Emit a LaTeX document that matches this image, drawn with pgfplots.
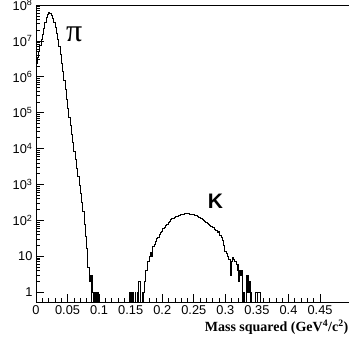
\documentclass[border=0pt]{standalone}
\usepackage{pgfplots}
\pgfplotsset{compat=1.18}
\usepackage{fontspec}
\setmainfont{Liberation Sans}
\newfontfamily\timesfont{Liberation Serif}
\begin{document}
\begin{tikzpicture}
\begin{axis}[
  name=ax,
  scale only axis,
  width=315.6pt, height=297pt,
  xmin=0, xmax=0.5,
  ymode=log, ymin=0.53, ymax=1e8,
  axis line style={line width=0.7pt},
  tick align=inside,
  xtick pos=left, ytick pos=left,
  xtick={0,0.05,0.1,0.15,0.2,0.25,0.3,0.35,0.4,0.45},
  xticklabels={0,0.05,0.1,0.15,0.2,0.25,0.3,0.35,0.4,0.45},
  minor x tick num=4,
  ytick={1,10,100,1000,10000,100000,1000000,10000000,100000000},
  yticklabels={1,10,10\textsuperscript{2},10\textsuperscript{3},10\textsuperscript{4},10\textsuperscript{5},10\textsuperscript{6},10\textsuperscript{7},10\textsuperscript{8}},
  minor ytick={2,3,4,5,6,7,8,9,20,30,40,50,60,70,80,90,200,300,400,500,600,700,800,900,2000,3000,4000,5000,6000,7000,8000,9000,20000,30000,40000,50000,60000,70000,80000,90000,2e5,3e5,4e5,5e5,6e5,7e5,8e5,9e5,2e6,3e6,4e6,5e6,6e6,7e6,8e6,9e6,2e7,3e7,4e7,5e7,6e7,7e7,8e7,9e7},
  major tick length=8pt, minor tick length=4pt,
  tick style={line width=0.6pt, black},
  ticklabel style={font=\fontsize{12.8}{14}\selectfont},
  xlabel={\timesfont\bfseries\fontsize{14}{16}\selectfont Mass squared (GeV\textsuperscript{4}/c\textsuperscript{2})},
  xlabel style={at={(rel axis cs:1,0)}, anchor=north east, yshift=-18pt, inner sep=0pt, xshift=-3pt},
]
\addplot[const plot mark left, line width=0.8pt, black, mark=none] coordinates {
(0.000,2.40e6) (0.002,3.55e6) (0.004,5.25e6) (0.006,7.59e6) (0.008,1.07e7)
(0.010,1.51e7) (0.012,2.24e7) (0.014,3.31e7) (0.016,4.47e7) (0.018,5.50e7)
(0.020,6.03e7) (0.022,5.75e7) (0.024,5.01e7) (0.026,4.17e7) (0.028,3.31e7)
(0.030,2.40e7) (0.032,1.66e7) (0.034,1.10e7) (0.036,6.92e6) (0.038,4.17e6)
(0.040,2.40e6) (0.042,1.38e6) (0.044,7.94e5) (0.046,4.37e5) (0.048,2.40e5)
(0.050,1.32e5) (0.052,7.59e4) (0.054,4.37e4) (0.056,2.51e4) (0.058,1.45e4)
(0.060,8320) (0.062,5010) (0.064,2880) (0.066,1660) (0.068,955)
(0.070,550) (0.072,316) (0.074,174) (0.076,79) (0.078,36)
(0.080,16) (0.082,5) (0.084,2) (0.0865,3) (0.088,0.01)
(0.0885,3) (0.090,1) (0.091,0.01) (0.0925,1) (0.094,0.01)
(0.0955,1) (0.0965,0.01) (0.0975,1) (0.0985,0.01)
(0.148,1) (0.149,0.01) (0.151,1) (0.152,0.01) (0.154,1) (0.155,0.01)
(0.157,1) (0.158,0.01) (0.160,1) (0.161,0.01) (0.163,2) (0.165,1)
(0.166,0.01) (0.168,1) (0.169,0.01) (0.170,1) (0.171,2)
(0.173,4) (0.175,4) (0.177,7) (0.179,10) (0.181,13) (0.183,10)
(0.185,19) (0.187,21) (0.189,26) (0.191,32) (0.193,34) (0.195,40)
(0.197,45) (0.199,50) (0.201,58) (0.203,63) (0.205,72) (0.207,79)
(0.209,89) (0.211,95) (0.213,105) (0.215,110) (0.217,115) (0.219,123)
(0.221,126) (0.223,132) (0.225,135) (0.227,138) (0.229,145) (0.231,148)
(0.233,151) (0.235,155) (0.237,155) (0.239,158) (0.241,155) (0.243,151)
(0.245,151) (0.247,148) (0.249,145) (0.251,138) (0.253,135) (0.255,129)
(0.257,123) (0.259,117) (0.261,110) (0.263,105) (0.265,100) (0.267,93)
(0.269,87) (0.271,83) (0.273,78) (0.275,74) (0.277,69) (0.279,63)
(0.281,62) (0.283,55) (0.285,52) (0.287,46) (0.289,48) (0.291,38)
(0.293,33) (0.295,28) (0.297,20) (0.299,14) (0.301,12) (0.303,10)
(0.305,8) (0.307,8) (0.308,3) (0.309,7) (0.311,9) (0.313,8)
(0.315,7) (0.317,6) (0.319,4) (0.320,6) (0.321,2) (0.322,4)
(0.324,3) (0.326,4) (0.327,0.01) (0.329,1) (0.330,0.01)
(0.333,3) (0.334,1) (0.335,3) (0.336,2) (0.337,1) (0.338,2)
(0.339,0.01) (0.341,1) (0.342,0.01) (0.347,1) (0.351,0.01)
(0.3515,1) (0.356,0.01) (0.5,0.01)
};
\node[anchor=base, inner sep=0pt, font=\timesfont\fontsize{32}{34}\selectfont] at (axis cs:0.0605,9.4e6) {π};
\node[anchor=base, inner sep=0pt, font=\bfseries\fontsize{21}{24}\selectfont] at (axis cs:0.2845,219) {K};
\end{axis}
\pgfresetboundingbox
\path (ax.south west) ++(-36pt,-39pt) rectangle ++(349pt,341pt);
\end{tikzpicture}
\end{document}
